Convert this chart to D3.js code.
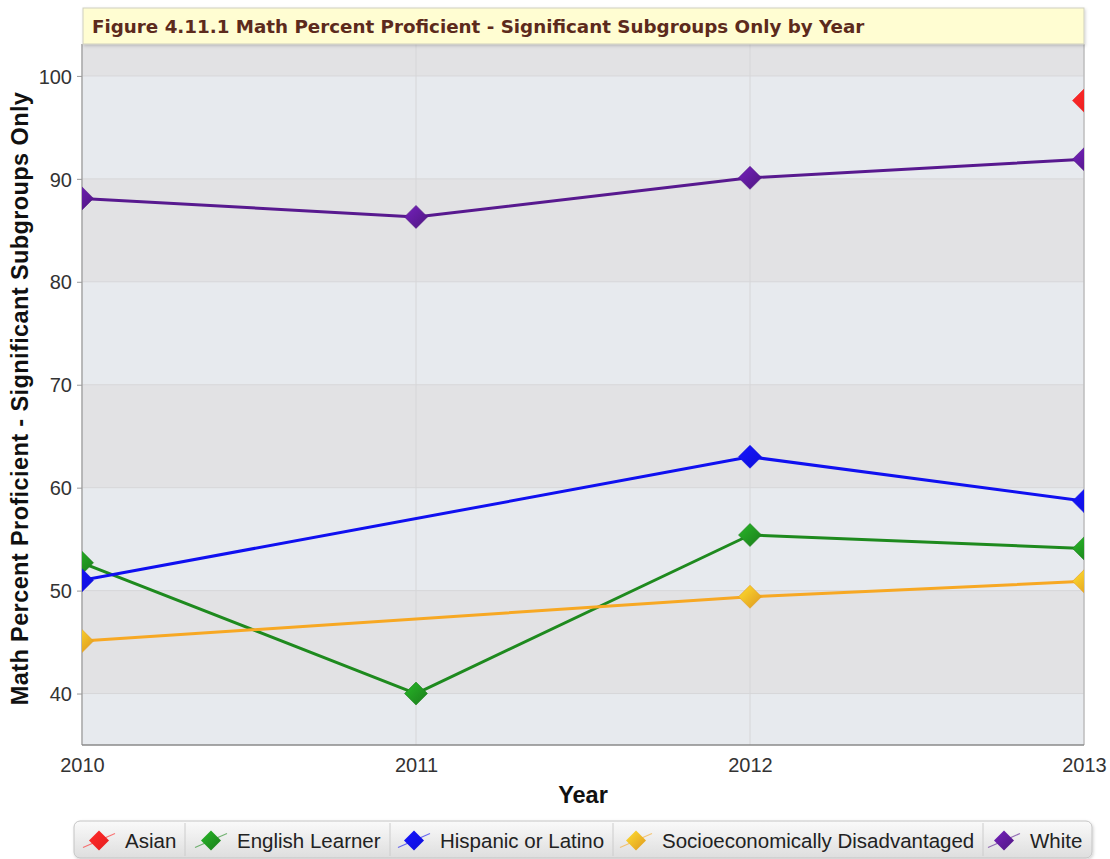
<!DOCTYPE html>
<html>
<head>
<meta charset="utf-8">
<script src="https://cdn.jsdelivr.net/npm/d3@7"></script>
<style>
  html, body { margin: 0; padding: 0; background: #ffffff; }
  svg { display: block; font-family: "Liberation Sans", Arial, sans-serif; }
</style>
</head>
<body>
<svg id="chart" width="1110" height="859"></svg>
<script>
// Years on the x axis
const years = [2010, 2011, 2012, 2013];

// Percent proficient per subgroup (null = not reported that year)
const asian          = [null, null, null, 97.6];
const englishLearner = [52.7, 40.0, 55.4, 54.1];
const hispanic       = [51.0, null, 63.0, 58.7];
const socioDisadv    = [45.1, null, 49.4, 50.9];
const white          = [88.1, 86.3, 90.1, 91.9];

const seriesNames = ["Asian", "English Learner", "Hispanic or Latino", "Socioeconomically Disadvantaged", "White"];
const seriesValues = [asian, englishLearner, hispanic, socioDisadv, white];
const seriesColors = ["#ff2020", "#1e8a1e", "#1010f0", "#f7a823", "#58198f"];

const yTicks = [40, 50, 60, 70, 80, 90, 100];

const title = "Figure 4.11.1 Math Percent Proficient - Significant Subgroups Only by Year";
const yLabel = "Math Percent Proficient - Significant Subgroups Only";
const xLabel = "Year";

const svg = d3.select("#chart");
const plot = { left: 82, right: 1084, top: 44, bottom: 745 };

const x = d3.scaleLinear().domain([2010, 2013]).range([plot.left, plot.right]);
const y = d3.scaleLinear().domain([35, 103.1]).range([plot.bottom, plot.top]);

const defs = svg.append("defs");
defs.append("clipPath").attr("id", "plotClip")
  .append("rect")
  .attr("x", plot.left).attr("y", plot.top)
  .attr("width", plot.right - plot.left).attr("height", plot.bottom - plot.top);

// Diamond gradients, one per series
seriesColors.forEach((c, i) => {
  const g = defs.append("linearGradient").attr("id", "grad" + i)
    .attr("x1", "0%").attr("y1", "0%").attr("x2", "100%").attr("y2", "100%");
  g.append("stop").attr("offset", "0%").attr("stop-color", d3.color(c).brighter(0.8));
  g.append("stop").attr("offset", "100%").attr("stop-color", d3.color(c).darker(0.3));
});

const legendGrad = defs.append("linearGradient").attr("id", "legendGrad")
  .attr("x1", "0").attr("y1", "0").attr("x2", "0").attr("y2", "1");
legendGrad.append("stop").attr("offset", "0%").attr("stop-color", "#fafafa");
legendGrad.append("stop").attr("offset", "100%").attr("stop-color", "#dedede");

const shadow = defs.append("filter").attr("id", "boxShadow")
  .attr("x", "-2%").attr("y", "-20%").attr("width", "104%").attr("height", "150%");
shadow.append("feDropShadow").attr("dx", 1).attr("dy", 1.5).attr("stdDeviation", 1.5)
  .attr("flood-color", "#000").attr("flood-opacity", 0.18);

// Alternating horizontal bands
const bandEdges = [35, 40, 50, 60, 70, 80, 90, 100, 103.1];
const bands = d3.pairs(bandEdges).map((p, i) => ({ lo: p[0], hi: p[1], i }));
svg.append("g").selectAll("rect").data(bands).join("rect")
  .attr("x", plot.left)
  .attr("width", plot.right - plot.left)
  .attr("y", d => y(d.hi))
  .attr("height", d => y(d.lo) - y(d.hi))
  .attr("fill", d => d.i % 2 === 0 ? "#e7eaee" : "#e2e2e4");

// Grid lines
svg.append("g").selectAll("line").data(yTicks).join("line")
  .attr("x1", plot.left).attr("x2", plot.right)
  .attr("y1", d => y(d)).attr("y2", d => y(d))
  .attr("stroke", "#d6d6d8").attr("stroke-width", 1);
svg.append("g").selectAll("line").data(years).join("line")
  .attr("y1", plot.top).attr("y2", plot.bottom)
  .attr("x1", d => x(d)).attr("x2", d => x(d))
  .attr("stroke", "#d6d6d8").attr("stroke-width", 1);

// Plot frame (left, bottom, right)
svg.append("line").attr("x1", plot.left).attr("x2", plot.left)
  .attr("y1", plot.top).attr("y2", plot.bottom).attr("stroke", "#9a9a9a").attr("stroke-width", 1.2);
svg.append("line").attr("x1", plot.right).attr("x2", plot.right)
  .attr("y1", plot.top).attr("y2", plot.bottom).attr("stroke", "#b0b0b0").attr("stroke-width", 1);
svg.append("line").attr("x1", plot.left).attr("x2", plot.right)
  .attr("y1", plot.bottom).attr("y2", plot.bottom).attr("stroke", "#8a8a8a").attr("stroke-width", 1.5);

// Axes
const yAxis = d3.axisLeft(y).tickValues(yTicks).tickSize(5).tickPadding(5);
const yG = svg.append("g").attr("transform", `translate(${plot.left},0)`).call(yAxis)
  .attr("font-size", 20).attr("font-family", "Liberation Sans, Arial, sans-serif");
yG.select(".domain").remove();
yG.selectAll(".tick line").attr("stroke", "#999");
yG.selectAll(".tick text").attr("fill", "#333").attr("dy", "0.36em");

const xAxis = d3.axisBottom(x).tickValues(years).tickFormat(d3.format("d")).tickSize(0).tickPadding(13);
const xG = svg.append("g").attr("transform", `translate(0,${plot.bottom})`).call(xAxis)
  .attr("font-size", 20).attr("font-family", "Liberation Sans, Arial, sans-serif");
xG.select(".domain").remove();
xG.selectAll(".tick text").attr("fill", "#333");

// Axis titles
svg.append("text")
  .attr("transform", `translate(28,${(plot.top + plot.bottom) / 2 + 4}) rotate(-90)`)
  .attr("text-anchor", "middle")
  .attr("font-size", 23.5).attr("font-weight", "bold").attr("fill", "#111")
  .attr("letter-spacing", 0.4)
  .text(yLabel);
svg.append("text")
  .attr("x", (plot.left + plot.right) / 2).attr("y", 803)
  .attr("text-anchor", "middle")
  .attr("font-size", 23.5).attr("font-weight", "bold").attr("fill", "#111")
  .text(xLabel);

// Title box
svg.append("rect")
  .attr("x", 83).attr("y", 8).attr("width", 1001).attr("height", 36)
  .attr("fill", "#fffdd2").attr("stroke", "#cfcfbf").attr("stroke-width", 1)
  .attr("filter", "url(#boxShadow)");
svg.append("text")
  .attr("x", 92).attr("y", 32.5)
  .attr("font-family", "DejaVu Sans, Verdana, sans-serif")
  .attr("font-size", 18.3).attr("font-weight", "bold").attr("fill", "#5c2a1c")
  .text(title);

// Series lines and diamonds
const series = seriesNames.map((name, i) => ({
  name, i, color: seriesColors[i],
  points: years.map((yr, j) => ({ yr, v: seriesValues[i][j] })).filter(p => p.v !== null)
}));

const line = d3.line().x(p => x(p.yr)).y(p => y(p.v));
const plotLayer = svg.append("g").attr("clip-path", "url(#plotClip)");

plotLayer.selectAll("path.series").data(series).join("path")
  .attr("class", "series")
  .attr("d", d => line(d.points))
  .attr("fill", "none")
  .attr("stroke", d => d.color)
  .attr("stroke-width", 3)
  .attr("stroke-linejoin", "round");

const diamond = (cx, cy, r) => `M${cx},${cy - r}L${cx + r},${cy}L${cx},${cy + r}L${cx - r},${cy}Z`;

series.forEach(s => {
  plotLayer.append("g").selectAll("path").data(s.points).join("path")
    .attr("d", p => diamond(x(p.yr), y(p.v), 11.5))
    .attr("fill", `url(#grad${s.i})`)
    .attr("stroke", d3.color(s.color).darker(0.2))
    .attr("stroke-width", 0.6);
});

// Legend
const legend = { x: 74, y: 821, w: 1018, h: 37 };
svg.append("rect")
  .attr("x", legend.x).attr("y", legend.y).attr("width", legend.w).attr("height", legend.h)
  .attr("rx", 6).attr("ry", 6)
  .attr("fill", "url(#legendGrad)").attr("stroke", "#c4c4c4")
  .attr("filter", "url(#boxShadow)");

const legendItems = [
  { icon: 99, text: 125, sep: 185 },
  { icon: 211, text: 237, sep: 390 },
  { icon: 414, text: 440, sep: 613 },
  { icon: 636, text: 662, sep: 983 },
  { icon: 1004, text: 1030, sep: null }
];
const lg = svg.append("g");
legendItems.forEach((it, i) => {
  const cy = legend.y + legend.h / 2 + 1;
  const c = seriesColors[i];
  lg.append("line")
    .attr("x1", it.icon - 16).attr("y1", cy + 7)
    .attr("x2", it.icon + 16).attr("y2", cy - 7)
    .attr("stroke", c).attr("stroke-width", 1.2).attr("opacity", 0.6);
  lg.append("path")
    .attr("d", diamond(it.icon, cy, 10))
    .attr("fill", `url(#grad${i})`);
  lg.append("text")
    .attr("x", it.text).attr("y", cy + 7)
    .attr("font-size", 20.5).attr("fill", "#222")
    .text(seriesNames[i]);
  if (it.sep !== null) {
    lg.append("line")
      .attr("x1", it.sep).attr("x2", it.sep)
      .attr("y1", legend.y + 2).attr("y2", legend.y + legend.h - 2)
      .attr("stroke", "#cccccc");
  }
});
</script>
</body>
</html>
